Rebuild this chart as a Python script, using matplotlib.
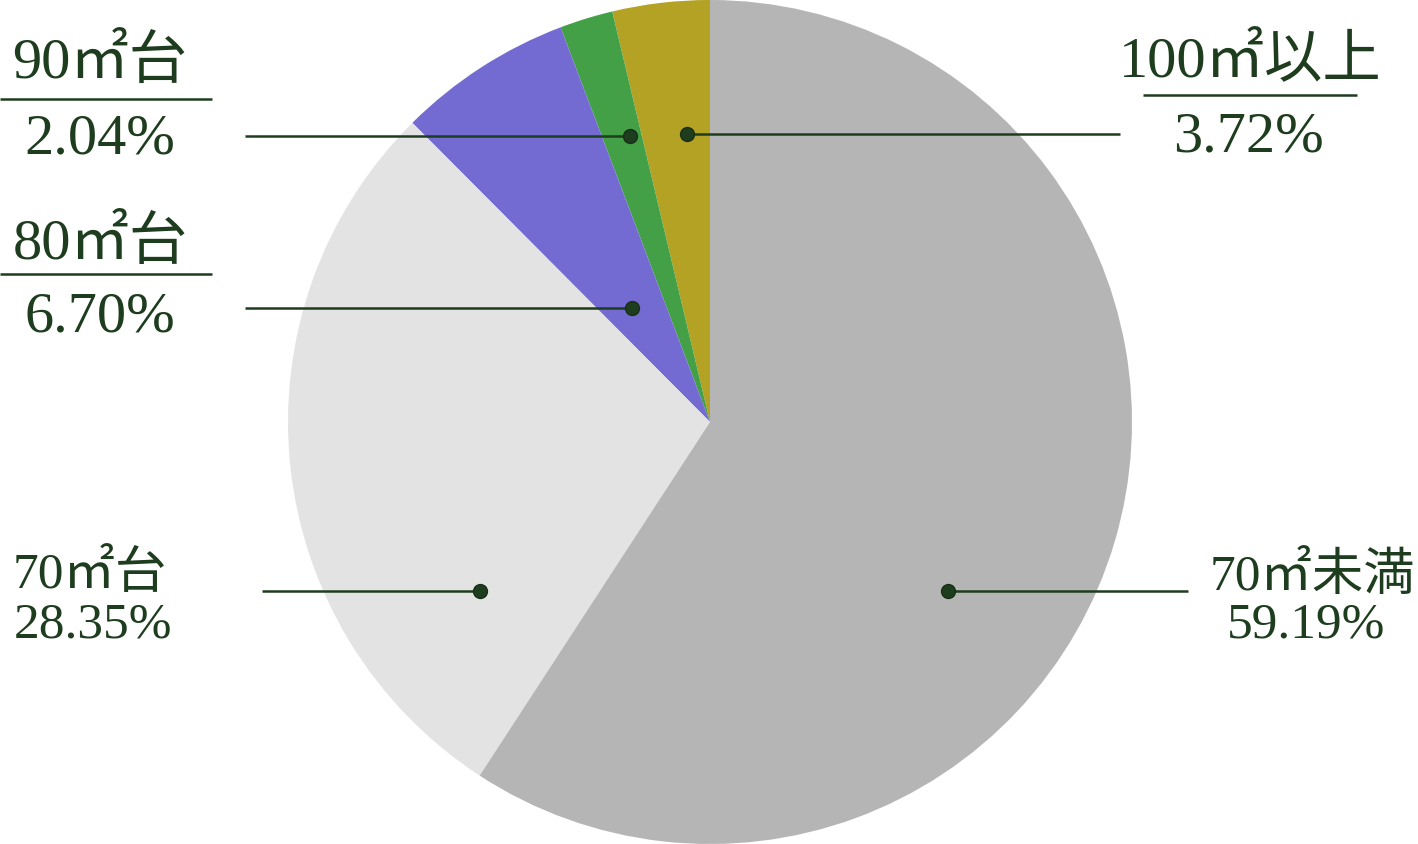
import matplotlib
matplotlib.use("Agg")
import matplotlib.pyplot as plt

# data
labels = ["100㎡以上", "90㎡台", "80㎡台", "70㎡台", "70㎡未満"]
shares = [3.72, 2.04, 6.70, 28.35, 59.19]
colors = ["#b3a223", "#44a047", "#736bd1", "#e3e3e3", "#b5b5b5"]

ink = "#1e3d1e"
fam = ["Liberation Serif", "Noto Sans CJK JP"]

W, H = 1418, 844
R = 422.0
fig = plt.figure(figsize=(W / 100, H / 100), dpi=100)
ax = fig.add_axes([0, 0, 1, 1])

ax.pie(shares, colors=colors, startangle=90, counterclock=True,
       radius=1.0, center=(0, 0), wedgeprops=dict(linewidth=0))

# pie() resets the limits, so set them afterwards
ax.set_xlim(-710 / R, (W - 710) / R)
ax.set_ylim(-(H - 422) / R, 422 / R)
ax.set_aspect("equal")
ax.axis("off")


def px(x, y):
    return (x - 710) / R, (422 - y) / R


# leader lines: (dot px, line end px)
leaders = [((687, 134), 1120), ((630, 136), 245), ((632, 308), 245),
           ((480, 591), 262), ((948, 591), 1188)]
for (dx, dy), ex in leaders:
    x0, y0 = px(dx, dy)
    x1, _ = px(ex, dy)
    ax.plot([x0, x1], [y0, y0], color=ink, lw=1.8, solid_capstyle="butt")
    ax.plot(x0, y0, "o", ms=10, color=ink, mec="#163016")

# labels: (name pos, value pos, rule span or None, size)
boxes = [((1250, 60), (1248, 138), (1143, 1357, 95), 42),
         ((100, 62), (100, 140), (0, 212, 99), 42),
         ((100, 243), (100, 318), (0, 212, 274), 42),
         ((90, 575), (93, 625), None, 37),
         ((1312, 577), (1306, 625), None, 37)]
for lab, val, (npos, vpos, rule, fs) in zip(labels, shares, boxes):
    ax.text(*px(*npos), lab, color=ink, fontsize=fs, family=fam,
            ha="center", va="center")
    ax.text(*px(*vpos), f"{val:.2f}%", color=ink, fontsize=fs, family=fam,
            ha="center", va="center")
    if rule is not None:
        a, b, ry = rule
        xa, yr = px(a, ry)
        xb, _ = px(b, ry)
        ax.plot([xa, xb], [yr, yr], color=ink, lw=1.8, solid_capstyle="butt")

fig.savefig("out.png", dpi=100)
